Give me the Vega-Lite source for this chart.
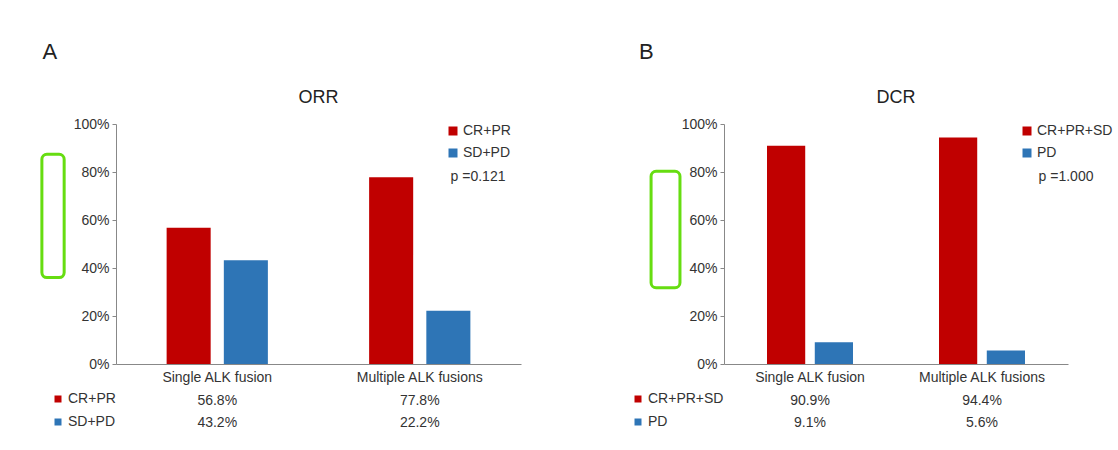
{
  "$schema": "https://vega.github.io/schema/vega-lite/v6.json",
  "background": "white",
  "padding": {"left": 40, "top": 41, "right": 5, "bottom": 5},
  "config": {
    "font": "Liberation Sans",
    "view": {"stroke": null},
    "axis": {"domainColor": "#888888", "tickColor": "#888888", "labelColor": "#333333", "labelFontSize": 14, "grid": false, "title": null},
    "legend": {"labelColor": "#333333", "labelFontSize": 14, "titleColor": "#333333"},
    "title": {"color": "#222222", "fontWeight": "normal"}
  },
  "resolve": {"scale": {"x": "independent", "y": "independent", "xOffset": "independent", "color": "independent"}, "legend": {"color": "independent"}},
  "hconcat": [
    {
      "title": {"text": "A", "anchor": "start", "frame": "bounds", "fontSize": 22, "offset": 25, "dx": 2},
      "bounds": "flush",
      "spacing": 26,
      "resolve": {"scale": {"x": "independent", "y": "independent", "xOffset": "independent", "color": "independent"}, "legend": {"color": "independent"}},
      "vconcat": [
        {
          "width": 405,
          "height": 240,
          "title": {"text": "ORR", "fontSize": 18, "offset": 10},
          "layer": [
            {
              "data": {"values": [
                {"group": "Single ALK fusion", "series": "CR+PR", "value": 0.568},
                {"group": "Single ALK fusion", "series": "SD+PD", "value": 0.432},
                {"group": "Multiple ALK fusions", "series": "CR+PR", "value": 0.778},
                {"group": "Multiple ALK fusions", "series": "SD+PD", "value": 0.222}
              ]},
              "mark": {"type": "bar"},
              "encoding": {
                "x": {"field": "group", "type": "nominal", "sort": ["Single ALK fusion", "Multiple ALK fusions"],
                      "scale": {"paddingInner": 0.5, "paddingOuter": 0.25},
                      "axis": {"labelAngle": 0, "ticks": false, "labelPadding": 6}},
                "xOffset": {"field": "series", "type": "nominal", "sort": ["CR+PR", "SD+PD"], "scale": {"paddingInner": 0.23}},
                "y": {"field": "value", "type": "quantitative", "scale": {"domain": [0, 1]},
                      "axis": {"format": ".0%", "values": [0, 0.2, 0.4, 0.6, 0.8, 1], "tickSize": 4, "labelPadding": 3}},
                "color": {"field": "series", "type": "nominal",
                          "scale": {"domain": ["CR+PR", "SD+PD"], "range": ["#C00000", "#2E75B6"]},
                          "legend": {"title": "p =0.121", "orient": "right", "offset": -75, "titleOrient": "bottom", "titleAnchor": "middle",
                                     "titleFontSize": 14, "titleFontWeight": "normal", "titlePadding": 10, "labelOffset": 3,
                                     "symbolType": "square", "symbolSize": 81, "symbolStrokeWidth": 0, "rowPadding": 8}}
              }
            },
            {
              "data": {"values": [{"x": -0.183, "x2": -0.128, "y": 0.874, "y2": 0.36}]},
              "mark": {"type": "rect", "fill": "transparent", "stroke": "#66DD11", "strokeWidth": 3, "cornerRadius": 5, "clip": false},
              "encoding": {
                "x": {"field": "x", "type": "quantitative", "scale": {"domain": [0, 1], "nice": false, "zero": false}, "axis": null},
                "x2": {"field": "x2"},
                "y": {"field": "y", "type": "quantitative"},
                "y2": {"field": "y2"}
              }
            }
          ],
          "resolve": {"scale": {"x": "independent"}}
        },
        {
          "width": 405,
          "height": 44,
          "data": {"values": [
            {"group": "Single ALK fusion", "series": "CR+PR", "value": 0.568},
            {"group": "Single ALK fusion", "series": "SD+PD", "value": 0.432},
            {"group": "Multiple ALK fusions", "series": "CR+PR", "value": 0.778},
            {"group": "Multiple ALK fusions", "series": "SD+PD", "value": 0.222}
          ]},
          "encoding": {
            "x": {"field": "group", "type": "nominal", "sort": ["Single ALK fusion", "Multiple ALK fusions"], "axis": null},
            "y": {"field": "series", "type": "nominal", "sort": ["CR+PR", "SD+PD"], "axis": null}
          },
          "layer": [
            {
              "mark": {"type": "text", "fontSize": 14, "color": "#333333"},
              "encoding": {"text": {"field": "value", "type": "quantitative", "format": ".1%"}}
            },
            {
              "mark": {"type": "point", "shape": "square", "filled": true, "opacity": 0},
              "encoding": {
                "color": {"field": "series", "type": "nominal",
                          "scale": {"domain": ["CR+PR", "SD+PD"], "range": ["#C00000", "#2E75B6"]},
                          "legend": {"orient": "left", "title": null, "offset": -2, "padding": 2, "symbolType": "square", "symbolSize": 49,
                                     "symbolOpacity": 1, "symbolStrokeWidth": 0, "rowPadding": 9, "labelOffset": 3}}
              }
            }
          ]
        }
      ]
    },
    {
      "title": {"text": "B", "anchor": "start", "frame": "bounds", "fontSize": 22, "offset": 25, "dx": 10},
      "bounds": "flush",
      "spacing": 26,
      "resolve": {"scale": {"x": "independent", "y": "independent", "xOffset": "independent", "color": "independent"}, "legend": {"color": "independent"}},
      "vconcat": [
        {
          "width": 344,
          "height": 240,
          "title": {"text": "DCR", "fontSize": 18, "offset": 10},
          "layer": [
            {
              "data": {"values": [
                {"group": "Single ALK fusion", "series": "CR+PR+SD", "value": 0.909},
                {"group": "Single ALK fusion", "series": "PD", "value": 0.091},
                {"group": "Multiple ALK fusions", "series": "CR+PR+SD", "value": 0.944},
                {"group": "Multiple ALK fusions", "series": "PD", "value": 0.056}
              ]},
              "mark": {"type": "bar"},
              "encoding": {
                "x": {"field": "group", "type": "nominal", "sort": ["Single ALK fusion", "Multiple ALK fusions"],
                      "scale": {"paddingInner": 0.5, "paddingOuter": 0.25},
                      "axis": {"labelAngle": 0, "ticks": false, "labelPadding": 6}},
                "xOffset": {"field": "series", "type": "nominal", "sort": ["CR+PR+SD", "PD"], "scale": {"paddingInner": 0.2}},
                "y": {"field": "value", "type": "quantitative", "scale": {"domain": [0, 1]},
                      "axis": {"format": ".0%", "values": [0, 0.2, 0.4, 0.6, 0.8, 1], "tickSize": 4, "labelPadding": 3}},
                "color": {"field": "series", "type": "nominal",
                          "scale": {"domain": ["CR+PR+SD", "PD"], "range": ["#C00000", "#2E75B6"]},
                          "legend": {"title": "p =1.000", "orient": "right", "offset": -48, "titleOrient": "bottom", "titleAnchor": "middle",
                                     "titleFontSize": 14, "titleFontWeight": "normal", "titlePadding": 10, "labelOffset": 3,
                                     "symbolType": "square", "symbolSize": 81, "symbolStrokeWidth": 0, "rowPadding": 8}}
              }
            },
            {
              "data": {"values": [{"x": -0.212, "x2": -0.128, "y": 0.803, "y2": 0.318}]},
              "mark": {"type": "rect", "fill": "transparent", "stroke": "#66DD11", "strokeWidth": 3, "cornerRadius": 5, "clip": false},
              "encoding": {
                "x": {"field": "x", "type": "quantitative", "scale": {"domain": [0, 1], "nice": false, "zero": false}, "axis": null},
                "x2": {"field": "x2"},
                "y": {"field": "y", "type": "quantitative"},
                "y2": {"field": "y2"}
              }
            }
          ],
          "resolve": {"scale": {"x": "independent"}}
        },
        {
          "width": 344,
          "height": 44,
          "data": {"values": [
            {"group": "Single ALK fusion", "series": "CR+PR+SD", "value": 0.909},
            {"group": "Single ALK fusion", "series": "PD", "value": 0.091},
            {"group": "Multiple ALK fusions", "series": "CR+PR+SD", "value": 0.944},
            {"group": "Multiple ALK fusions", "series": "PD", "value": 0.056}
          ]},
          "encoding": {
            "x": {"field": "group", "type": "nominal", "sort": ["Single ALK fusion", "Multiple ALK fusions"], "axis": null},
            "y": {"field": "series", "type": "nominal", "sort": ["CR+PR+SD", "PD"], "axis": null}
          },
          "layer": [
            {
              "mark": {"type": "text", "fontSize": 14, "color": "#333333"},
              "encoding": {"text": {"field": "value", "type": "quantitative", "format": ".1%"}}
            },
            {
              "mark": {"type": "point", "shape": "square", "filled": true, "opacity": 0},
              "encoding": {
                "color": {"field": "series", "type": "nominal",
                          "scale": {"domain": ["CR+PR+SD", "PD"], "range": ["#C00000", "#2E75B6"]},
                          "legend": {"orient": "left", "title": null, "offset": -2, "padding": 2, "symbolType": "square", "symbolSize": 49,
                                     "symbolOpacity": 1, "symbolStrokeWidth": 0, "rowPadding": 9, "labelOffset": 3}}
              }
            }
          ]
        }
      ]
    }
  ],
  "spacing": 108
}
